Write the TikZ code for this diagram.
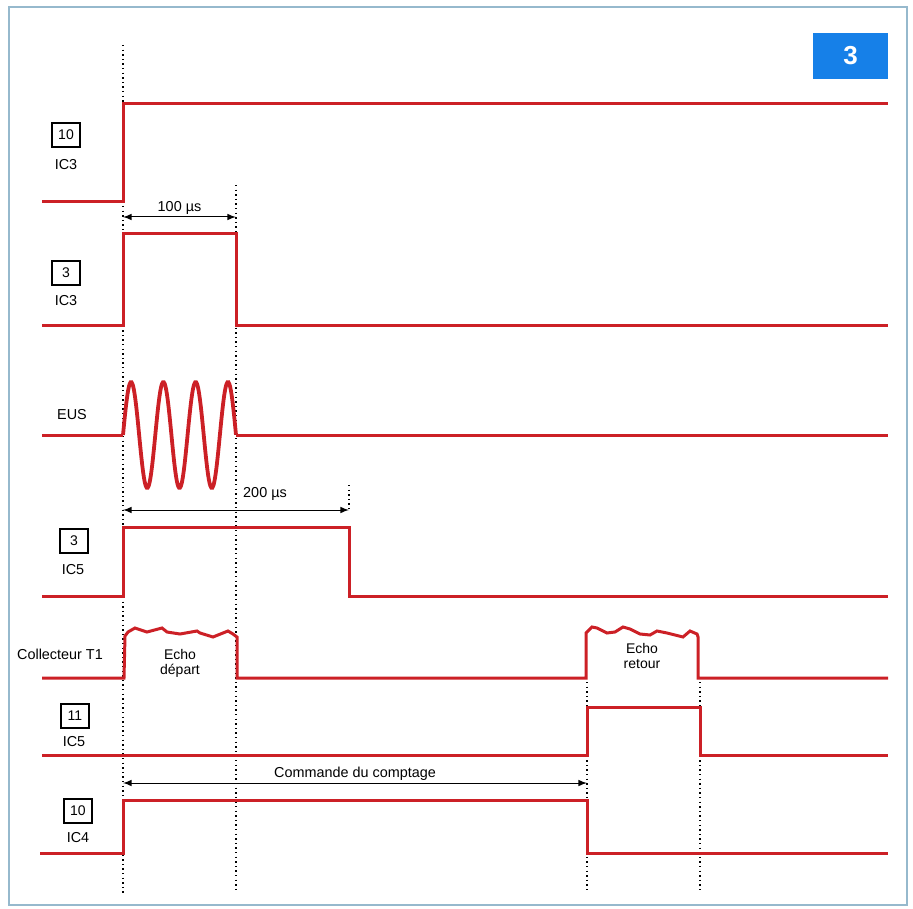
\documentclass[tikz,border=0pt]{standalone}
\usepackage{fontspec}
\setmainfont{Liberation Sans}
\usetikzlibrary{calc, arrows.meta}
\tikzset{>=latex}
\definecolor{sigred}{RGB}{204,32,38}
\definecolor{tagblue}{RGB}{22,128,232}
\definecolor{framecol}{RGB}{150,185,205}

\begin{document}
\begin{tikzpicture}[x=0.5pt,y=-0.5pt,
  sig/.style={sigred, line width=1.5pt, line join=miter},
  pinbox/.style={draw, line width=0.9pt, minimum width=14pt, minimum height=12pt, inner sep=1pt, font=\fontsize{7}{8}\selectfont},
  lbl/.style={font=\fontsize{7.2}{8.5}\selectfont, align=center, inner sep=1pt},
  guide/.style={line width=0.7pt, dash pattern=on 0.7pt off 1.6pt},
  dim/.style={<->, line width=0.5pt}]
\useasboundingbox (0,0) rectangle (913,908);
\draw[framecol, line width=0.8pt] (9,7) rectangle (907,905);

% figure number
\node[fill=tagblue, minimum width=37.5pt, minimum height=23pt, text=white, font=\bfseries\fontsize{13}{14}\selectfont] (tag) at (850.5,56) {3};

% time marks
\foreach \name/\xx/\ya/\yb in {t0/123/45/893, t1/236/185/893, t2/349/485/512, t3/587/682/893, t4/700/682/893}{
  \coordinate (\name top) at (\xx,\ya);
  \coordinate (\name bot) at (\xx,\yb);
  \draw[guide] (\name top) -- (\name bot);
}

% 10 IC3
\draw[sig] (42,202) -- (123,202) -- (123,104) -- (888,104);
\node[pinbox] (p1) at (66,135) {10};
\node[lbl] (l1) at (66,165) {IC3};

% 100 us
\coordinate (a100) at (123,217);
\coordinate (b100) at (236,217);
\draw[dim] (a100) -- node[lbl, above] (d100) {100 µs} (b100);

% 3 IC3
\draw[sig] (42,326) -- (123,326) -- (123,234) -- (236,234) -- (236,326) -- (888,326);
\node[pinbox] (p2) at (66,273) {3};
\node[lbl] (l2) at (66,301) {IC3};

% EUS
\draw[sig] (42,435) -- (123,435);
\draw[sig, line width=1.9pt] plot[smooth, samples=120, domain=0:3.5] ({123+32.29*\x},{435-53*sin(360*\x)});
\draw[sig] (236,435) -- (888,435);
\node[lbl] (l3) at (72,415) {EUS};

% 200 us
\coordinate (a200) at (123,510);
\coordinate (b200) at (349,510);
\draw[dim] (a200) -- (b200);
\node[lbl] (d200) at (265,494) {200 µs};

% 3 IC5
\draw[sig] (42,596) -- (123,596) -- (123,527) -- (349,527) -- (349,596) -- (888,596);
\node[pinbox] (p4) at (74,541) {3};
\node[lbl] (l4) at (73,570) {IC5};

% Collecteur T1
\draw[sig] (42,678) -- (124,678) -- (125,636) -- (128,632) -- (135,628) -- (147,632) -- (162,628)
  -- (167,632) -- (180,634) -- (197,631) -- (200,633) -- (213,637) -- (228,631) -- (233,634)
  -- (237,637) -- (237,678) -- (586,678) -- (586,633) -- (592,627) -- (597,628) -- (607,633)
  -- (615,632) -- (623,627) -- (630,629) -- (640,634) -- (650,635) -- (657,631) -- (667,633)
  -- (683,637) -- (690,631) -- (697,634) -- (698,637) -- (698,678) -- (888,678);
\node[lbl] (l5) at (60,654) {Collecteur T1};
\node[lbl, font=\fontsize{7}{7.6}\selectfont] (e1) at (180,663) {Echo\\départ};
\node[lbl, font=\fontsize{7}{7.6}\selectfont] (e2) at (642,656) {Echo\\retour};

% 11 IC5
\draw[sig] (42,755) -- (587,755) -- (587,707) -- (700,707) -- (700,755) -- (888,755);
\node[pinbox] (p6) at (75,716) {11};
\node[lbl] (l6) at (74,742) {IC5};

% comptage
\coordinate (acpt) at (123,783);
\coordinate (bcpt) at (587,783);
\draw[dim] (acpt) -- node[lbl, above] (dcpt) {Commande du comptage} (bcpt);

% 10 IC4
\draw[sig] (40,853) -- (123,853) -- (123,800) -- (587,800) -- (587,853) -- (888,853);
\node[pinbox] (p7) at (78,811) {10};
\node[lbl] (l7) at (78,838) {IC4};
\end{tikzpicture}
\end{document}
